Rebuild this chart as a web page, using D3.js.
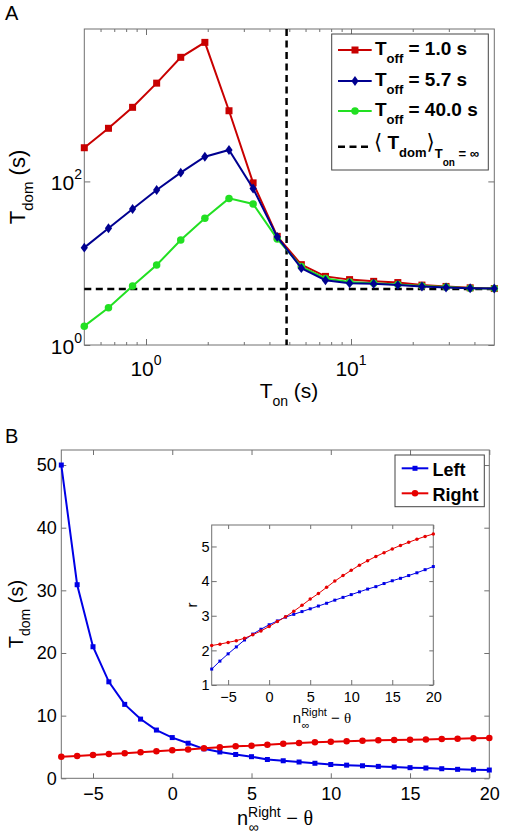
<!DOCTYPE html>
<html><head><meta charset="utf-8">
<script src="https://cdn.jsdelivr.net/npm/d3@7"></script>
<style>
body{margin:0;background:#fff}
svg{display:block}
text{font-family:"Liberation Sans",Arial,Helvetica,sans-serif;fill:#000}
</style>
</head><body>
<svg id="c" width="505" height="839"></svg>
<script>
// ---------------- DATA ----------------
// Panel A: T_on values (s)
const tOn = [0.5, 0.656, 0.860, 1.127, 1.477, 1.937, 2.540, 3.330, 4.366, 5.724, 7.505, 9.840, 12.90, 16.92, 22.18, 29.08, 38.13, 50.0];
// T_dom (s) for each T_off
const tdomOff1  = [258, 446, 805, 1590, 3290, 5010, 731, 96, 21.3, 9.6, 6.9, 6.3, 6.0, 5.8, 5.4, 5.2, 5.0, 4.9];
const tdomOff57 = [15.5, 26.7, 46, 78.5, 128, 200, 242, 82, 21, 8.7, 6.2, 5.7, 5.6, 5.4, 5.2, 5.05, 4.95, 4.9];
const tdomOff40 = [1.7, 2.86, 5.26, 9.5, 19.2, 35.4, 62, 53, 19.8, 9.1, 6.5, 5.9, 5.7, 5.5, 5.25, 5.1, 4.95, 4.9];
const tdomInf = 4.85;
const legendA = ["1.0", "5.7", "40.0"];
const aXMajor = [1, 10];
const aXMinor = [0.6, 0.7, 0.8, 0.9, 2, 3, 4, 5, 6, 7, 8, 9, 20, 30, 40];
const aYMajor = [1, 100];

// Panel B
const nTheta = [-7,-6,-5,-4,-3,-2,-1,0,1,2,3,4,5,6,7,8,9,10,11,12,13,14,15,16,17,18,19,20];
const tdomLeft  = [50, 30.9, 21.0, 15.4, 11.8, 9.45, 7.7, 6.5, 5.6, 4.7, 4.2, 3.8, 3.45, 3.0, 2.8, 2.6, 2.4, 2.2, 2.1, 2.0, 1.9, 1.8, 1.7, 1.64, 1.53, 1.43, 1.37, 1.32];
const tdomRight = [3.45, 3.55, 3.7, 3.87, 3.98, 4.15, 4.3, 4.47, 4.6, 4.8, 4.95, 5.1, 5.2, 5.36, 5.5, 5.63, 5.74, 5.84, 5.9, 6.0, 6.06, 6.1, 6.16, 6.2, 6.27, 6.3, 6.38, 6.43];
const rLeft  = [1.46, 1.69, 1.90, 2.10, 2.30, 2.47, 2.61, 2.74, 2.85, 2.96, 3.04, 3.12, 3.20, 3.28, 3.36, 3.45, 3.53, 3.61, 3.69, 3.77, 3.84, 3.93, 4.01, 4.08, 4.16, 4.24, 4.33, 4.42];
const rRight = [2.14, 2.18, 2.23, 2.28, 2.35, 2.45, 2.56, 2.69, 2.83, 2.97, 3.13, 3.30, 3.48, 3.64, 3.82, 4.00, 4.16, 4.31, 4.46, 4.59, 4.71, 4.82, 4.93, 5.03, 5.12, 5.21, 5.29, 5.36];
const bXTicks = [-5, 0, 5, 10, 15, 20];
const bYTicks = [0, 10, 20, 30, 40, 50];
const iXTicks = [-5, 0, 5, 10, 15, 20];
const iYTicks = [1, 2, 3, 4, 5];

// ---------------- STYLE ----------------
const AX = "#707070";
const RED_A = "#c80000", BLUE_A = "#000090", GREEN_A = "#22e022";
const BLUE_B = "#0000e6", RED_B = "#e60000";
const SERIF = '"Liberation Serif","Times New Roman",serif';
const NB = "\u00a0";

const svg = d3.select("#c");

function ticks(g, gen, tr, vals, size) {
  g.append("g").attr("transform", tr)
    .call(gen.tickValues(vals).tickSizeInner(-size).tickSizeOuter(0).tickFormat(""))
    .call(s => s.select(".domain").remove())
    .call(s => s.selectAll("line").attr("stroke", AX))
    .call(s => s.selectAll("text").remove());
}
function labelAxis(g, gen, tr, vals, fs, pad) {
  const a = g.append("g").attr("transform", tr)
    .call(gen.tickValues(vals).tickSizeInner(-5).tickSizeOuter(0).tickPadding(pad).tickFormat(d3.format("d")))
    .call(s => s.select(".domain").remove())
    .call(s => s.selectAll("line").attr("stroke", AX));
  a.attr("font-family", null).attr("font-size", null);
  a.selectAll("text").style("font-size", fs + "px").attr("fill", "#000");
  return a;
}
function marker(g, type, x, y, color, s) {
  if (type === "square") {
    g.append("rect").attr("x", x - s/2).attr("y", y - s/2).attr("width", s).attr("height", s).attr("fill", color);
  } else if (type === "diamond") {
    g.append("path").attr("d", `M${x},${y - s*0.62}L${x + s*0.45},${y}L${x},${y + s*0.62}L${x - s*0.45},${y}Z`).attr("fill", color);
  } else {
    g.append("circle").attr("cx", x).attr("cy", y).attr("r", s/2).attr("fill", color);
  }
}

// ================= PANEL A =================
const xA = d3.scaleLog().domain([0.5, 50]).range([84.3, 494.3]);
const yA = d3.scaleLog().domain([1, 7300]).range([345, 29]);
const gA = svg.append("g");

gA.append("rect").attr("x", 84.3).attr("y", 29).attr("width", 410).attr("height", 316)
  .attr("fill", "none").attr("stroke", AX).attr("stroke-width", 1);
ticks(gA, d3.axisBottom(xA), "translate(0,345)", aXMajor, 6);
ticks(gA, d3.axisBottom(xA), "translate(0,345)", aXMinor, 3);
ticks(gA, d3.axisTop(xA), "translate(0,29)", aXMajor, 6);
ticks(gA, d3.axisTop(xA), "translate(0,29)", aXMinor, 3);
ticks(gA, d3.axisLeft(yA), "translate(84.3,0)", aYMajor, 6);
ticks(gA, d3.axisRight(yA), "translate(494.3,0)", aYMajor, 6);

aXMajor.forEach(v => {
  const t = gA.append("text").attr("x", xA(v)).attr("y", 376).attr("text-anchor", "middle").style("font-size", "21px");
  t.append("tspan").text("10");
  t.append("tspan").attr("dy", -11).style("font-size", "14px").text(Math.round(Math.log10(v)));
});
aYMajor.forEach(v => {
  const t = gA.append("text").attr("x", 82).attr("y", yA(v) + 9).attr("text-anchor", "end").style("font-size", "21px");
  t.append("tspan").text("10");
  t.append("tspan").attr("dy", -11).style("font-size", "14px").text(Math.round(Math.log10(v)));
});

// dashed reference lines
gA.append("line").attr("x1", xA(0.5)).attr("x2", xA(50)).attr("y1", yA(tdomInf)).attr("y2", yA(tdomInf))
  .attr("stroke", "#000").attr("stroke-width", 2.5).attr("stroke-dasharray", "7,4.5");
gA.append("line").attr("x1", xA(tdomInf)).attr("x2", xA(tdomInf)).attr("y1", yA(7300)).attr("y2", yA(1))
  .attr("stroke", "#000").attr("stroke-width", 2.5).attr("stroke-dasharray", "7,4.5");

const seriesA = [
  {vals: tdomOff1, color: RED_A, m: "square", s: 7},
  {vals: tdomOff40, color: GREEN_A, m: "circle", s: 7.5},
  {vals: tdomOff57, color: BLUE_A, m: "diamond", s: 8}
];
seriesA.forEach(sr => {
  const line = d3.line().x((d, i) => xA(tOn[i])).y(d => yA(d));
  gA.append("path").attr("d", line(sr.vals)).attr("fill", "none").attr("stroke", sr.color).attr("stroke-width", 2);
  sr.vals.forEach((d, i) => marker(gA, sr.m, xA(tOn[i]), yA(d), sr.color, sr.s));
});

// axis labels A
{
  const t = gA.append("text").attr("x", 289).attr("y", 398).attr("text-anchor", "middle").style("font-size", "21px");
  t.append("tspan").text("T");
  t.append("tspan").attr("dy", 8).style("font-size", "14px").text("on");
  t.append("tspan").attr("dy", -8).text(NB + "(s)");
}
{
  const t = gA.append("text").attr("transform", "translate(25,187) rotate(-90)").attr("text-anchor", "middle").style("font-size", "22px");
  t.append("tspan").text("T");
  t.append("tspan").attr("dy", 8).style("font-size", "15px").text("dom");
  t.append("tspan").attr("dy", -8).text(NB + "(s)");
}
gA.append("text").attr("x", 5).attr("y", 20).style("font-size", "20px").text("A");

// legend A
{
  const lg = gA.append("g");
  lg.append("rect").attr("x", 331.7).attr("y", 34).attr("width", 156.6).attr("height", 136)
    .attr("fill", "#fff").attr("stroke", "#444").attr("stroke-width", 1);
  const rows = [
    {y: 50, color: RED_A, m: "square", s: 7, lab: legendA[0]},
    {y: 81, color: BLUE_A, m: "diamond", s: 8, lab: legendA[1]},
    {y: 111, color: GREEN_A, m: "circle", s: 7.5, lab: legendA[2]}
  ];
  rows.forEach(r => {
    lg.append("line").attr("x1", 338).attr("x2", 371.7).attr("y1", r.y).attr("y2", r.y).attr("stroke", r.color).attr("stroke-width", 2);
    marker(lg, r.m, 355, r.y, r.color, r.s);
    const t = lg.append("text").attr("x", 375).attr("y", r.y + 5).style("font-size", "19px").style("font-weight", "bold");
    t.append("tspan").text("T");
    t.append("tspan").attr("dy", 8).style("font-size", "13px").text("off");
    t.append("tspan").attr("dy", -8).text(NB + "= " + r.lab + " s");
  });
  const yd = 146.7;
  lg.append("line").attr("x1", 338).attr("x2", 371.7).attr("y1", yd).attr("y2", yd)
    .attr("stroke", "#000").attr("stroke-width", 2.5).attr("stroke-dasharray", "7,4.5");
  const t = lg.append("text").attr("x", 374).attr("y", 149).style("font-size", "19px").style("font-weight", "bold");
  t.append("tspan").style("font-weight", "normal").style("font-family", '"DejaVu Sans",sans-serif').style("font-size", "21px").text("⟨");
  t.append("tspan").text(NB + "T");
  t.append("tspan").attr("dy", 8).style("font-size", "13px").text("dom");
  t.append("tspan").attr("dy", -8).style("font-weight", "normal").style("font-family", '"DejaVu Sans",sans-serif').style("font-size", "21px").text("⟩");
  t.append("tspan").attr("dy", 9).style("font-size", "13px").text("T");
  t.append("tspan").attr("dy", 8).style("font-size", "10px").text("on");
  t.append("tspan").attr("dy", -8).style("font-size", "13px").text(NB + "= ∞");
}

// ================= PANEL B =================
const xB = d3.scaleLinear().domain([-7, 20]).range([61.3, 489.3]);
const yB = d3.scaleLinear().domain([0, 52.4]).range([778.3, 450]);
const gB = svg.append("g");

gB.append("rect").attr("x", 61.3).attr("y", 450).attr("width", 428).attr("height", 328.3)
  .attr("fill", "none").attr("stroke", AX).attr("stroke-width", 1);
labelAxis(gB, d3.axisBottom(xB), "translate(0,778.3)", bXTicks, 18, 9);
labelAxis(gB, d3.axisLeft(yB), "translate(61.3,0)", bYTicks, 18, 4.5);
ticks(gB, d3.axisTop(xB), "translate(0,450)", bXTicks, 5);
ticks(gB, d3.axisRight(yB), "translate(489.3,0)", bYTicks, 5);

function nLabel(g, cx, baseline, fs, fsSup, supDy, subDy) {
  const grp = g.append("g");
  const n = grp.append("text").attr("x", 0).attr("y", 0).style("font-size", fs + "px").text("n");
  const nw = n.node().getComputedTextLength();
  const sup = grp.append("text").attr("x", nw).attr("y", supDy).style("font-size", fsSup + "px").text("Right");
  const sw = sup.node().getComputedTextLength();
  grp.append("text").attr("x", nw + 0.5).attr("y", subDy).style("font-size", fsSup + "px").text("∞");
  const rest = grp.append("text").attr("x", nw + sw).attr("y", 0).style("font-size", fs + "px");
  rest.append("tspan").text(NB + "−" + NB);
  rest.append("tspan").style("font-family", SERIF).text("θ");
  const total = nw + sw + rest.node().getComputedTextLength();
  grp.attr("transform", `translate(${cx - total/2},${baseline})`);
}

const lineB = vals => d3.line().x((d, i) => xB(nTheta[i])).y(d => yB(d))(vals);
gB.append("path").attr("d", lineB(tdomLeft)).attr("fill", "none").attr("stroke", BLUE_B).attr("stroke-width", 2);
tdomLeft.forEach((d, i) => marker(gB, "square", xB(nTheta[i]), yB(d), BLUE_B, 5));
gB.append("path").attr("d", lineB(tdomRight)).attr("fill", "none").attr("stroke", RED_B).attr("stroke-width", 2);
tdomRight.forEach((d, i) => marker(gB, "circle", xB(nTheta[i]), yB(d), RED_B, 6.5));

nLabel(gB, 275, 825, 20, 14, -8.5, 7);
{
  const t = gB.append("text").attr("transform", "translate(23,614) rotate(-90)").attr("text-anchor", "middle").style("font-size", "20px");
  t.append("tspan").text("T");
  t.append("tspan").attr("dy", 7).style("font-size", "14px").text("dom");
  t.append("tspan").attr("dy", -7).text(NB + "(s)");
}
gB.append("text").attr("x", 5).attr("y", 443).style("font-size", "20px").text("B");

// legend B
{
  const lg = gB.append("g");
  lg.append("rect").attr("x", 395).attr("y", 455).attr("width", 89.3).attr("height", 51.7)
    .attr("fill", "#fff").attr("stroke", "#444").attr("stroke-width", 1);
  const rows = [
    {y: 468.3, color: BLUE_B, m: "square", s: 5, lab: "Left"},
    {y: 493.3, color: RED_B, m: "circle", s: 6.5, lab: "Right"}
  ];
  rows.forEach(r => {
    lg.append("line").attr("x1", 401.7).attr("x2", 428.3).attr("y1", r.y).attr("y2", r.y).attr("stroke", r.color).attr("stroke-width", 2);
    marker(lg, r.m, 415, r.y, r.color, r.s);
    lg.append("text").attr("x", 432.5).attr("y", r.y + 7.5).style("font-size", "18px").style("font-weight", "bold").text(r.lab);
  });
}

// ================= INSET =================
const xI = d3.scaleLinear().domain([-7, 20]).range([211.7, 433.3]);
const yI = d3.scaleLinear().domain([1, 5.62]).range([685, 525]);
const gI = svg.append("g");
gI.append("rect").attr("x", 211.7).attr("y", 525).attr("width", 221.6).attr("height", 160)
  .attr("fill", "#fff").attr("stroke", AX).attr("stroke-width", 1);
labelAxis(gI, d3.axisBottom(xI), "translate(0,685)", iXTicks, 14.5, 7);
labelAxis(gI, d3.axisLeft(yI), "translate(211.7,0)", iYTicks, 14.5, 2);
ticks(gI, d3.axisTop(xI), "translate(0,525)", iXTicks, 4);
ticks(gI, d3.axisRight(yI), "translate(433.3,0)", iYTicks, 4);

const lineI = vals => d3.line().x((d, i) => xI(nTheta[i])).y(d => yI(d))(vals);
gI.append("path").attr("d", lineI(rLeft)).attr("fill", "none").attr("stroke", BLUE_B).attr("stroke-width", 1);
rLeft.forEach((d, i) => marker(gI, "square", xI(nTheta[i]), yI(d), BLUE_B, 3));
gI.append("path").attr("d", lineI(rRight)).attr("fill", "none").attr("stroke", RED_B).attr("stroke-width", 1);
rRight.forEach((d, i) => marker(gI, "circle", xI(nTheta[i]), yI(d), RED_B, 3.5));

nLabel(gI, 322, 723, 15, 11, -7, 6);
gI.append("text").attr("transform", "translate(197,605) rotate(-90)").attr("text-anchor", "middle").style("font-size", "15px").text("r");
</script>
</body></html>
